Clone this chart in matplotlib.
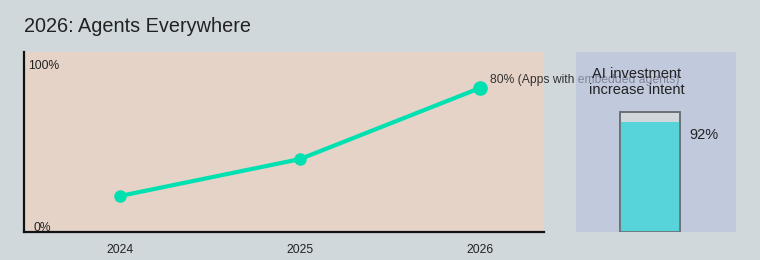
import matplotlib.pyplot as plt

plt.rcParams['font.family'] = ['Liberation Sans', 'DejaVu Sans']

# datos
years = [2024, 2025, 2026]
agent_share = [20, 40.5, 80]          # % apps con agentes
last_label = '80% (Apps with embedded agents)'
invest_intent = 92                    # % intencion de aumentar inversion
panel_title = 'AI investment\nincrease intent'

fig = plt.figure(figsize=(7.6, 2.6), dpi=100)
fig.patch.set_facecolor('#d0d8dc')
fig.text(24 / 760, 1 - 27 / 260, '2026: Agents Everywhere', fontsize=14.3,
         color='#222222', va='center', ha='left')

# grafica de linea
ax = fig.add_axes([24 / 760, 28 / 260, 520 / 760, 180 / 260])
ax.set_facecolor('#e6d3c8')
ax.plot(years, agent_share, color='#00e0b0', lw=3, marker='o', ms=8, zorder=3)
ax.plot(years[-1:], agent_share[-1:], 'o', color='#00e0b0', ms=9.5, zorder=4)
ax.set_xlim(2024 - 96 / 180, 2026 + 64 / 180)
ax.set_ylim(0, 100)
ax.set_xticks(years)
ax.set_xticklabels([str(y) for y in years])
ax.set_yticks([])
ax.tick_params(axis='x', length=0, pad=8.5, labelsize=8.7, colors='#222222')
for s in ['top', 'right']:
    ax.spines[s].set_visible(False)
for s in ['left', 'bottom']:
    ax.spines[s].set_linewidth(1.6)
    ax.spines[s].set_color('#111111')
ax.text(0.007, 0.922, '100%', transform=ax.transAxes, fontsize=8.7, va='center', color='#222222')
ax.text(0.019, 0.022, '0%', transform=ax.transAxes, fontsize=8.7, va='center', color='#222222')
ax.annotate(last_label, (years[-1], agent_share[-1]), xytext=(7, 5.5),
            textcoords='offset points', fontsize=8.7, va='center', color='#333333',
            annotation_clip=False)

# panel derecho
ax2 = fig.add_axes([576 / 760, 28 / 260, 160 / 760, 180 / 260])
ax2.set_facecolor((183 / 255, 191 / 255, 222 / 255, 0.6))
ax2.set_xlim(0, 1)
ax2.set_ylim(0, 150)
ax2.set_xticks([])
ax2.set_yticks([])
for s in ax2.spines.values():
    s.set_visible(False)
ax2.bar(0.4625, 100, width=0.375, color='#d0d8dc', edgecolor='#6e7278', lw=1.3, zorder=2)
ax2.bar(0.4625, invest_intent, width=0.375, color='#56d4da', zorder=3)
ax2.bar(0.4625, 100, width=0.375, fill=False, edgecolor='#6e7278', lw=1.3, zorder=4)
ax2.text(0.38, 0.833, panel_title, transform=ax2.transAxes, ha='center', va='center',
         fontsize=10.5, color='#222222', linespacing=1.25)
ax2.text(0.71, 0.54, f'{invest_intent}%', transform=ax2.transAxes, ha='left', va='center',
         fontsize=10.5, color='#222222')

fig.savefig('out.png', dpi=100, facecolor=fig.get_facecolor())
